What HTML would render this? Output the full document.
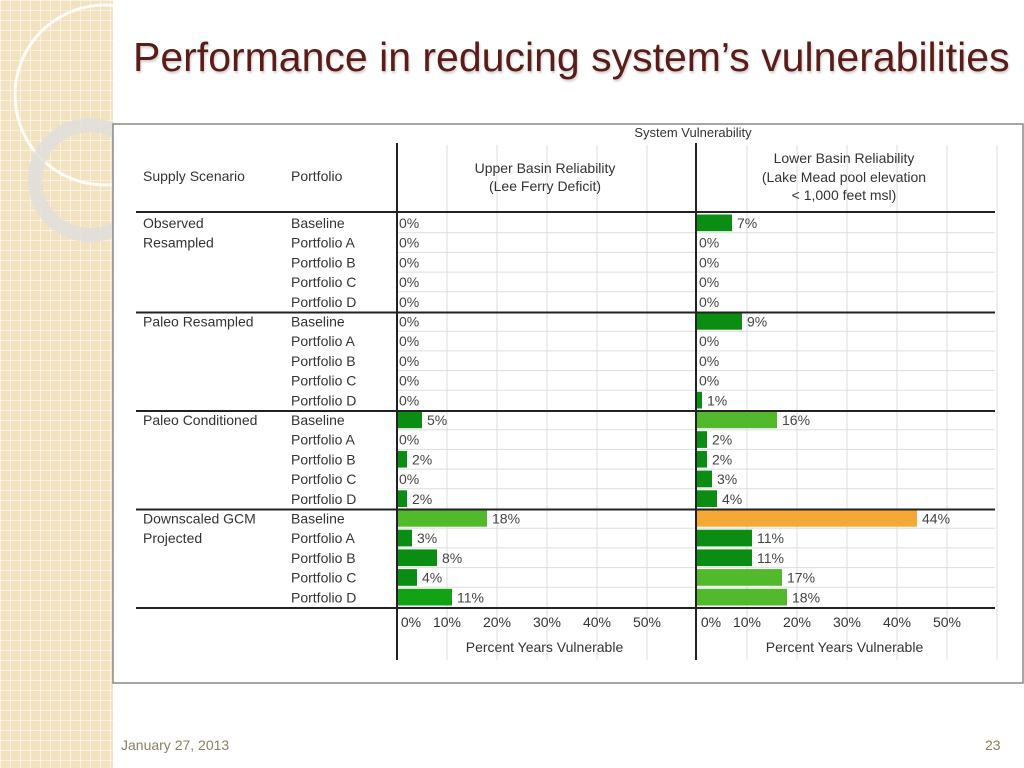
<!DOCTYPE html>
<html><head><meta charset="utf-8"><style>
body{margin:0;width:1024px;height:768px;position:relative;overflow:hidden;background:#fff;font-family:"Liberation Sans",sans-serif}
#strip{position:absolute;left:0;top:0;width:113px;height:768px;background-color:#f2e2c0;
background-image:linear-gradient(#fff8 1px,transparent 1px),linear-gradient(90deg,#fff8 1px,transparent 1px);background-size:10px 10px}
#title{position:absolute;left:133px;top:34px;font-size:41px;color:#5a1c16;white-space:nowrap;text-shadow:1px 2px 2px #0003}
.foot{position:absolute;top:737px;font-size:14px;color:#8a8060}
</style></head><body>
<div id="strip"></div>
<svg style="position:absolute;left:0;top:0" width="130" height="330">
<circle cx="105" cy="95" r="90" fill="none" stroke="#fff" stroke-width="3" opacity=".9"/>
<circle cx="90" cy="180" r="55" fill="none" stroke="#ddd" stroke-width="14" opacity=".8"/>
</svg>
<div id="title">Performance in reducing system’s vulnerabilities</div>
<div class="foot" style="left:121px">January 27, 2013</div>
<div class="foot" style="left:985px">23</div>
<svg id="chart" style="position:absolute;left:0;top:0" width="1024" height="768"></svg>
<script>
const scenarios=["Observed\nResampled","Paleo Resampled","Paleo Conditioned","Downscaled GCM\nProjected"];
const portfolios=["Baseline","Portfolio A","Portfolio B","Portfolio C","Portfolio D"];
const upperValues=[0,0,0,0,0, 0,0,0,0,0, 5,0,2,0,2, 18,3,8,4,11];
const lowerValues=[7,0,0,0,0, 9,0,0,0,1, 16,2,2,3,4, 44,11,11,17,18];
const upperColors=["d","d","d","d","d","d","d","d","d","d","d","d","d","d","d","l","d","d","d","m"];
const lowerColors=["d","d","d","d","d","d","d","d","d","d","l","d","d","d","d","o","d","d","l","l"];
const tickLabels=["0%","10%","20%","30%","40%","50%"];
const tickValues=[0,10,20,30,40,50];
const col={d:"#0b8c12",m:"#13a216",l:"#52b82c",o:"#f5a833"};
const svg=document.getElementById('chart');const NS="http://www.w3.org/2000/svg";
function mk(t,a,p){const e=document.createElementNS(NS,t);for(const k in a)e.setAttribute(k,a[k]);(p||svg).appendChild(e);return e;}
function txt(x,y,s,size,anchor,name,fill){const e=mk('text',{x:x,y:y,'font-size':size,fill:fill||'#333','text-anchor':anchor||'start'});e.textContent=s;


return e;}
const rowY=i=>213+Math.floor(i/5)*98.5+(i%5)*19.7;
const rowH=19.7;
const xU=v=>397+v*5, xL=v=>697+v*5;
const fr=mk('rect',{x:113,y:124,width:910,height:559,fill:'#fff',stroke:'#888','stroke-width':1.5});


for(const X of [xU,xL]){for(const v of [10,20,30,40,50,60]){if(X===xU&&v===60)continue;const g=mk('line',{x1:X(v),x2:X(v),y1:145,y2:660,stroke:'#ddd'});

}}
for(let i=0;i<20;i++){const y=rowY(i)+rowH;if(i%5==4)continue;const g=mk('line',{x1:397,x2:995,y1:y,y2:y,stroke:'#ddd'});

}
function bars(vals,cols,X,name){vals.forEach((v,i)=>{const y=rowY(i);
if(v>0){const r=mk('rect',{x:X(0),y:y+1.5,width:X(v)-X(0),height:rowH-3,fill:col[cols[i]]});

}
txt(X(v)+(v>0?5:2),y+15,v+'%',14,'start',name+'-value-label','#444');});}
bars(upperValues,upperColors,xU,'upper-basin');
bars(lowerValues,lowerColors,xL,'lower-basin');
for(let g=0;g<=4;g++){const y=g==0?212:rowY(g*5-1)+rowH+1;const l=mk('line',{x1:136,x2:995,y1:y,y2:y,stroke:'#222','stroke-width':2});

}
for(const x of [397,696]){const l=mk('line',{x1:x,x2:x,y1:143,y2:660,stroke:'#222','stroke-width':2});

}
scenarios.forEach((s,g)=>{s.split('\n').forEach((p,j)=>txt(143,rowY(g*5)+15+j*19.7,p,14,'start','scenario-label'));});
for(let i=0;i<20;i++)txt(291,rowY(i)+15,portfolios[i%5],14,'start','portfolio-label');
txt(143,181,'Supply Scenario',14,'start','column-header-scenario');
txt(291,181,'Portfolio',14,'start','column-header-portfolio');
txt(693,137,'System Vulnerability',13,'middle','chart-title');
txt(545,173,'Upper Basin Reliability',14,'middle','upper-panel-title');
txt(545,191,'(Lee Ferry Deficit)',14,'middle','upper-panel-subtitle');
txt(844,163,'Lower Basin Reliability',14,'middle','lower-panel-title');
txt(844,182,'(Lake Mead pool elevation',14,'middle','lower-panel-subtitle');
txt(844,200,'< 1,000 feet msl)',14,'middle','lower-panel-subtitle');
for(const [X,n] of [[xU,'upper'],[xL,'lower']]){tickValues.forEach((v,k)=>txt(X(v)+(k==0?14:0),627,tickLabels[k],14,'middle',n+'-x-tick'));
txt(X(29.5),652,'Percent Years Vulnerable',14,'middle',n+'-x-axis-title');}
</script>
</body></html>
